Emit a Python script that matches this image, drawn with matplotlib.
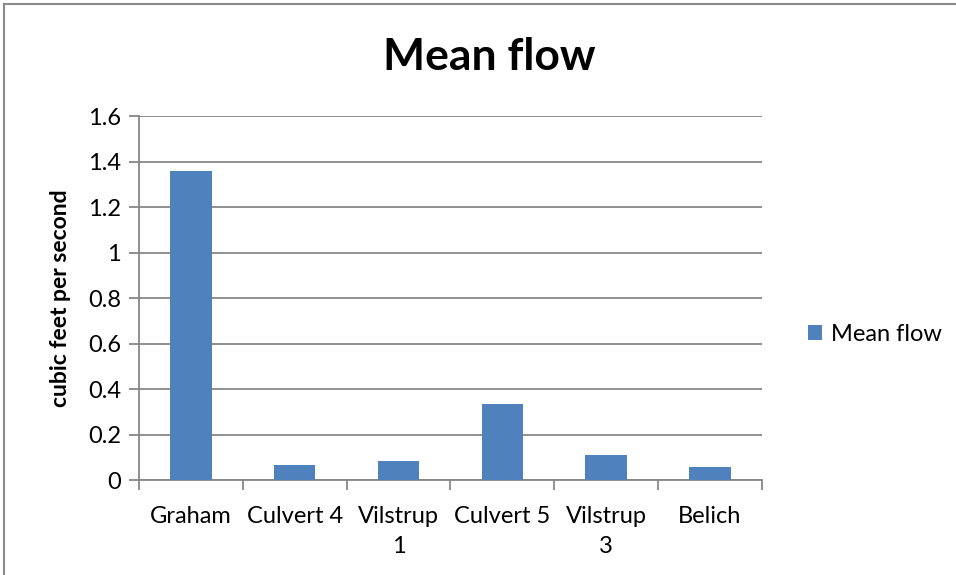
import matplotlib.pyplot as plt
from matplotlib.patches import Rectangle

# Mean flow at each site
sites = ["Graham", "Culvert 4", "Vilstrup\n1", "Culvert 5", "Vilstrup\n3", "Belich"]
mean_flow = [1.36, 0.066, 0.085, 0.334, 0.11, 0.056]
y_ticks = [0, 0.2, 0.4, 0.6, 0.8, 1, 1.2, 1.4, 1.6]
y_tick_labels = ["0", "0.2", "0.4", "0.6", "0.8", "1", "1.2", "1.4", "1.6"]

plt.rcParams['font.family'] = ['Lato', 'DejaVu Sans']

bar_color = "#4F81BD"
grid_color = "#878787"

fig = plt.figure(figsize=(9.56, 5.75), dpi=100)
ax = fig.add_axes([0.1454, 0.1652, 0.6516, 0.6328])

x = list(range(len(sites)))
ax.bar(x, mean_flow, width=0.4, color=bar_color, label="Mean flow", zorder=3)

ax.set_xlim(-0.5, len(sites) - 0.5)
ax.set_ylim(0, 1.6)
ax.set_yticks(y_ticks)
ax.set_yticklabels(y_tick_labels, fontsize=17)
ax.yaxis.grid(True, color=grid_color, linewidth=1.3, zorder=0)

# category labels centred, ticks on the boundaries
ax.set_xticks(x)
ax.set_xticklabels(sites, fontsize=17, linespacing=1.5)
ax.tick_params(axis='x', length=0, pad=19)
ax.set_xticks([i - 0.5 for i in range(len(sites) + 1)], minor=True)
ax.tick_params(axis='x', which='minor', length=7, width=1.3, color=grid_color)
ax.tick_params(axis='y', length=7, width=1.3, color=grid_color, pad=6)

for side in ["top", "right"]:
    ax.spines[side].set_visible(False)
for side in ["left", "bottom"]:
    ax.spines[side].set_color(grid_color)
    ax.spines[side].set_linewidth(1.3)

ax.set_ylabel("cubic feet per second", fontsize=16.5, fontweight="bold", labelpad=12)
fig.text(0.512, 0.9, "Mean flow", ha="center", va="center", fontsize=32, fontweight="bold")

ax.legend(loc="center left", bbox_to_anchor=(1.04, 0.4), frameon=False,
          fontsize=17, handlelength=0.6, handleheight=0.6, handletextpad=0.35)

# outline of the chart area
fig.patches.append(Rectangle((0.004, -0.01), 1.0, 1.003, transform=fig.transFigure,
                             fill=False, edgecolor="#8a8a8a", linewidth=1.5))

fig.savefig("out.png", dpi=100)
